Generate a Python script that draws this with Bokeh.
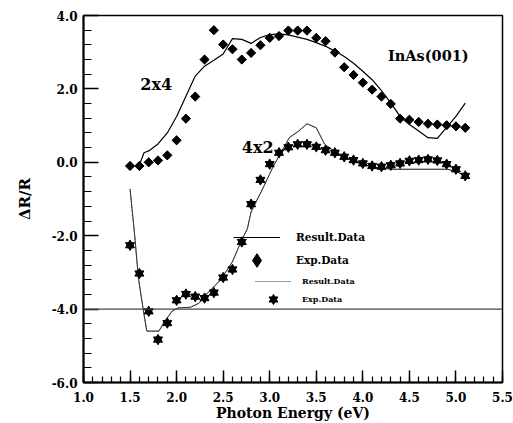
from bokeh.plotting import figure
from bokeh.models import (Range1d, SingleIntervalTicker, PrintfTickFormatter, Span,
                          Label, Legend, LegendItem, ColumnDataSource)
from bokeh.embed import file_html
from bokeh.resources import INLINE
import math

# ---- data ----
exp24_x = [1.5, 1.6, 1.7, 1.8, 1.9, 2.0, 2.1, 2.2, 2.3, 2.4, 2.5, 2.6, 2.7, 2.8, 2.9,
           3.0, 3.1, 3.2, 3.3, 3.4, 3.5, 3.6, 3.7, 3.8, 3.9, 4.0, 4.1, 4.2, 4.3, 4.4,
           4.5, 4.6, 4.7, 4.8, 4.9, 5.0, 5.1]
exp24_y = [-0.10, -0.10, 0.00, 0.05, 0.19, 0.60, 1.19, 1.79, 2.80, 3.60, 3.21, 3.08,
           2.80, 2.98, 3.19, 3.39, 3.44, 3.59, 3.59, 3.59, 3.39, 3.30, 2.99, 2.59,
           2.38, 2.17, 1.98, 1.79, 1.59, 1.19, 1.16, 1.10, 1.05, 1.03, 1.01, 0.98, 0.94]

res24_x = [1.6, 1.65, 1.7, 1.8, 1.9, 2.0, 2.1, 2.2, 2.3, 2.4, 2.5, 2.6, 2.7, 2.8, 2.9,
           3.0, 3.1, 3.2, 3.3, 3.4, 3.5, 3.6, 3.7, 3.8, 3.9, 4.0, 4.1, 4.2, 4.3, 4.4,
           4.5, 4.6, 4.7, 4.8, 4.9, 5.0, 5.1]
res24_y = [-0.07, 0.26, 0.31, 0.50, 0.80, 1.25, 1.80, 2.35, 2.62, 2.78, 2.95, 3.37,
           3.35, 3.24, 3.40, 3.48, 3.50, 3.47, 3.41, 3.35, 3.26, 3.16, 3.03, 2.88,
           2.70, 2.48, 2.25, 1.95, 1.62, 1.25, 1.03, 0.85, 0.67, 0.65, 0.95, 1.25, 1.61]

exp42_x = exp24_x
exp42_y = [-2.26, -3.03, -4.06, -4.83, -4.38, -3.76, -3.59, -3.66, -3.70, -3.55, -3.14,
           -2.92, -2.17, -1.14, -0.48, -0.05, 0.26, 0.41, 0.49, 0.49, 0.42, 0.33, 0.26,
           0.15, 0.06, -0.03, -0.10, -0.12, -0.08, -0.03, 0.04, 0.06, 0.08, 0.05, -0.05,
           -0.19, -0.37]

res42_x = [1.50, 1.55, 1.59, 1.65, 1.68, 1.81, 1.86, 1.95, 2.01, 2.15, 2.24, 2.33, 2.47,
           2.60, 2.69, 2.76, 2.80, 2.94, 3.04, 3.12, 3.21, 3.31, 3.40, 3.50, 3.59, 3.69,
           3.80, 3.90, 4.00, 4.10, 4.20, 4.33, 4.91, 5.00, 5.10]
res42_y = [-0.73, -2.00, -3.16, -4.15, -4.60, -4.60, -4.38, -4.06, -3.97, -3.95, -3.84,
           -3.57, -3.21, -2.71, -2.17, -1.81, -1.35, -0.64, -0.10, 0.26, 0.67, 0.85, 1.05,
           0.94, 0.49, 0.31, 0.14, 0.03, -0.06, -0.12, -0.16, -0.19, -0.19, -0.25, -0.37]

ref_level = -4.0
x_range = (1.0, 5.5)
y_range = (-6.0, 4.0)

FONT = "DejaVu Serif"

p = figure(width=513, height=423, output_backend="svg", toolbar_location=None,
           x_range=Range1d(*x_range), y_range=Range1d(*y_range),
           min_border_left=83, min_border_top=15, min_border_right=11, min_border_bottom=39)
p.background_fill_color = "white"
p.border_fill_color = "white"
p.outline_line_color = "black"
p.outline_line_width = 1.5
p.grid.visible = False

p.xaxis.ticker = SingleIntervalTicker(interval=0.5, num_minor_ticks=5)
p.yaxis.ticker = SingleIntervalTicker(interval=2.0, num_minor_ticks=5)
for ax in (p.xaxis, p.yaxis):
    ax.formatter = PrintfTickFormatter(format="%.1f")
    ax.axis_line_width = 2
    ax.axis_line_color = "black"
    ax.major_tick_out = 0
    ax.minor_tick_out = 0
    ax.major_tick_line_width = 1.5
    ax.minor_tick_line_width = 1.2
    ax.major_label_text_font = FONT
    ax.major_label_text_font_style = "bold"
    ax.major_label_text_font_size = "12px"
    ax.major_label_text_color = "black"
    ax.axis_label_text_font = FONT
    ax.axis_label_text_font_style = "bold"
    ax.axis_label_text_color = "black"
p.yaxis.major_tick_in = 15
p.yaxis.minor_tick_in = 8
p.xaxis.major_tick_in = 12
p.xaxis.minor_tick_in = 6
p.yaxis.major_label_standoff = 6
p.xaxis.major_label_standoff = 9
p.yaxis.axis_label = "ΔR/R"
p.yaxis.axis_label_text_font_size = "15px"
p.yaxis.axis_label_standoff = 15
p.xaxis.axis_label = "Photon Energy (eV)"
p.xaxis.axis_label_text_font_size = "14px"
p.xaxis.axis_label_standoff = 0

p.add_layout(Span(location=ref_level, dimension="width", line_color="#444444", line_width=1.2))

# 2x4
r_res24 = p.line(res24_x, res24_y, line_color="black", line_width=1.2)
src24 = ColumnDataSource(dict(x=exp24_x, y=exp24_y))
r_dia_leg = p.scatter("x", "y", source=src24, marker="diamond", size=8, color="black")
p.scatter("x", "y", source=src24, marker="square", size=6.5, angle=math.pi / 4, color="black")

# 4x2
p.line(res42_x, res42_y, line_color="#333333", line_width=1)
r_res42_leg = p.line(res42_x, res42_y, line_color="#333333", line_width=1, line_dash="1 1")
src42 = ColumnDataSource(dict(x=exp42_x, y=exp42_y))
r_tri = p.scatter("x", "y", source=src42, marker="triangle", size=9, color="black")
r_itri = p.scatter("x", "y", source=src42, marker="inverted_triangle", size=9, color="black")

# annotations
lab_kw = dict(text_font=FONT, text_font_style="bold", text_color="black", text_baseline="middle")
p.add_layout(Label(x=1.61, y=2.11, text="2x4", text_font_size="16px", **lab_kw))
p.add_layout(Label(x=2.70, y=0.40, text="4x2", text_font_size="16px", **lab_kw))
p.add_layout(Label(x=4.27, y=2.92, text="InAs(001)", text_font_size="14.5px", **lab_kw))

def mk_legend(item_label, renderers, loc, gw, gh, standoff, fsize):
    return Legend(items=[LegendItem(label=item_label, renderers=renderers)],
                  location=loc, glyph_width=gw, glyph_height=gh, label_height=gh,
                  label_standoff=standoff, padding=0, margin=0, spacing=0,
                  border_line_alpha=0, background_fill_alpha=0,
                  label_text_font=FONT, label_text_font_style="bold",
                  label_text_font_size=fsize, label_text_color="black")

p.add_layout(mk_legend("Result.Data", [r_res24], (150, 135), 47, 20, 16, "10.5px"))
p.add_layout(mk_legend("Exp.Data", [r_dia_leg], (150, 105), 47, 34, 16, "10.5px"))
p.add_layout(mk_legend("Result.Data", [r_res42_leg], (172, 91), 36, 20, 11, "8px"))
p.add_layout(mk_legend("Exp.Data", [r_tri, r_itri], (172, 72), 36, 22, 11, "8px"))

open("out.html", "w").write(file_html(p, INLINE))
